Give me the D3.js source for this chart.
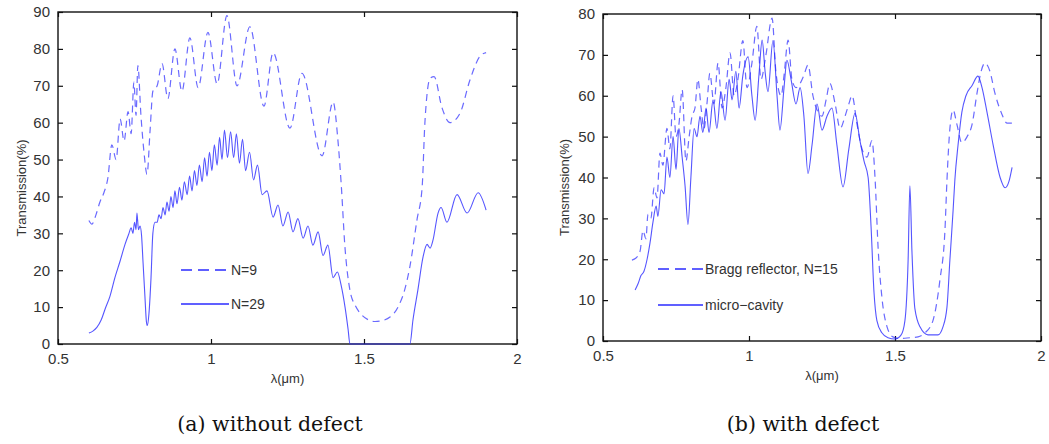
<!DOCTYPE html>
<html>
<head>
<meta charset="utf-8">
<script src="https://cdn.jsdelivr.net/npm/d3@7"></script>
<style>
  body { margin: 0; background: #fff; }
  text { font-family: "Liberation Sans", Arial, sans-serif; }
  text.caption { font-family: "DejaVu Serif", serif; }
</style>
</head>
<body>
<div id="chart-area"></div>
<script>
// tick values
const xTicks = [0.5, 1, 1.5, 2];
const yTicksA = [0, 10, 20, 30, 40, 50, 60, 70, 80, 90];
const yTicksB = [0, 10, 20, 30, 40, 50, 60, 70, 80];

// (a) without defect, N=9  [lambda um, T %]
const seriesN9 = [
  [0.601,33.5],[0.611,32.5],[0.624,35],[0.637,38.5],[0.650,41],[0.663,45],[0.676,54],[0.690,50],
  [0.703,61],[0.716,55],[0.729,63],[0.739,57],[0.748,71],[0.755,62],[0.761,75.5],[0.771,62],
  [0.781,52],[0.791,46],[0.801,58],[0.810,68.5],[0.824,70],[0.840,76],[0.859,66.5],[0.882,80],
  [0.905,68.5],[0.931,83],[0.958,69.5],[0.990,84.5],[1.020,70.5],[1.052,89],[1.085,70],[1.127,86],
  [1.173,64.5],[1.203,79],[1.258,58.5],[1.297,73.4],[1.363,51],[1.399,65.6],[1.415,55],[1.425,44],
  [1.438,26],[1.454,14.6],[1.471,10.5],[1.487,8.4],[1.513,6.6],[1.536,6.1],[1.562,6.4],[1.585,7.3],
  [1.611,10],[1.634,15],[1.650,21],[1.673,33.6],[1.690,42.5],[1.699,60],[1.716,72],[1.729,72.5],
  [1.755,64],[1.781,60],[1.814,62.6],[1.846,71.5],[1.879,78],[1.899,79]
];

// (a) without defect, N=29
const seriesN29 = [
  [0.601,3],[0.614,3.5],[0.627,4.5],[0.641,6.5],[0.654,9.5],[0.670,13],[0.686,18],[0.703,22.5],
  [0.719,27],[0.732,30],[0.739,31.5],[0.745,30],[0.750,33],[0.755,31],[0.758,35.5],[0.763,31],
  [0.768,32],[0.773,29.5],[0.778,22],[0.784,13],[0.789,6],[0.792,5],[0.797,8],[0.804,18],
  [0.810,30],[0.817,33],[0.824,33],[0.830,35],[0.837,34],[0.843,37],[0.850,35],[0.856,38.5],
  [0.863,36],[0.869,40],[0.876,37],[0.882,41.5],[0.889,38],[0.897,42.5],[0.905,39],[0.913,44],
  [0.922,40.5],[0.930,45.5],[0.938,41.5],[0.946,47],[0.954,43],[0.962,48.5],[0.971,44],[0.979,50.5],
  [0.987,45.5],[0.995,52],[1.003,47],[1.011,54],[1.020,48.5],[1.028,56],[1.036,50],[1.044,58],
  [1.054,50.5],[1.064,57.5],[1.074,50.5],[1.083,57],[1.093,49],[1.103,55.5],[1.113,47],[1.126,52],
  [1.139,44.5],[1.152,48.5],[1.167,40.5],[1.183,41.5],[1.203,34.4],[1.219,37.7],[1.235,32],[1.252,35.8],
  [1.268,30.4],[1.284,34],[1.301,28.7],[1.317,32],[1.333,26.8],[1.350,30.4],[1.366,24],[1.382,26.8],
  [1.399,18],[1.413,19.5],[1.425,16],[1.438,10],[1.448,4],[1.454,0],[1.650,0],[1.660,6.5],
  [1.676,14.6],[1.693,23.6],[1.706,27],[1.716,26],[1.725,28],[1.742,35.5],[1.752,37],[1.771,33],
  [1.804,40.5],[1.837,35.5],[1.873,41],[1.899,36.3]
];

// (b) with defect, Bragg reflector N=15
const seriesBragg = [
  [0.599,19.8],[0.613,20.3],[0.627,22],[0.637,27],[0.647,25],[0.654,31],[0.664,30],[0.675,37.5],
  [0.685,35],[0.695,46],[0.705,43],[0.719,52],[0.729,47],[0.740,60],[0.750,50],[0.760,53],
  [0.771,61.5],[0.784,44],[0.795,50],[0.805,55],[0.815,57],[0.825,64],[0.836,57],[0.846,52],
  [0.856,58],[0.866,65.5],[0.880,58],[0.894,68],[0.908,57],[0.921,62],[0.935,70.5],[0.949,60],
  [0.962,64],[0.979,73.5],[0.993,62],[1.010,68],[1.027,77],[1.041,64],[1.058,70],[1.079,79],
  [1.092,66],[1.110,60],[1.120,65],[1.134,73.6],[1.147,64],[1.161,62],[1.175,63],[1.188,65],
  [1.202,67.5],[1.219,60],[1.236,56],[1.250,55],[1.264,59],[1.277,63],[1.295,58],[1.312,52],
  [1.329,55],[1.342,58],[1.353,60],[1.370,53],[1.387,47],[1.404,45],[1.421,49],[1.432,39.4],
  [1.442,23],[1.455,10.8],[1.473,3.4],[1.493,1],[1.517,0.6],[1.551,0.8],[1.579,1],[1.603,2],
  [1.630,5],[1.654,15],[1.671,27],[1.678,39.4],[1.688,52],[1.699,56.5],[1.712,53],[1.729,48.5],
  [1.747,50],[1.764,53],[1.781,60.7],[1.795,66],[1.808,68],[1.825,66],[1.842,60.7],[1.866,55.5],
  [1.884,53.3],[1.901,53.3]
];

// (b) with defect, micro-cavity
const seriesCavity = [
  [0.610,12.5],[0.620,14],[0.630,16],[0.640,17],[0.651,20],[0.661,24],[0.671,29],[0.682,33],
  [0.688,30.5],[0.699,37],[0.709,36],[0.719,45],[0.729,40],[0.740,50],[0.750,42],[0.760,52],
  [0.771,45],[0.781,38],[0.791,28.5],[0.801,40],[0.812,52],[0.822,50],[0.832,55],[0.842,51],
  [0.853,57],[0.863,51],[0.877,59],[0.890,52],[0.904,61],[0.918,54],[0.932,64],[0.942,59],
  [0.955,66],[0.966,57],[0.979,65],[0.997,69.5],[1.010,60],[1.021,54],[1.034,65],[1.045,73.6],
  [1.055,66],[1.065,61],[1.082,73.5],[1.096,60],[1.106,51.6],[1.120,62],[1.130,68.7],[1.144,64],
  [1.161,58],[1.175,62],[1.188,55],[1.202,41],[1.216,48],[1.233,58],[1.250,51.6],[1.267,55],
  [1.284,57],[1.301,48],[1.322,37.7],[1.342,47],[1.363,55.7],[1.380,49],[1.394,44],[1.408,40],
  [1.418,28],[1.428,12],[1.438,5],[1.455,2],[1.476,0.8],[1.500,0.5],[1.521,1.5],[1.534,5],
  [1.545,20],[1.551,38],[1.558,22],[1.568,8],[1.586,3.4],[1.613,1.5],[1.647,1.5],[1.664,3.4],
  [1.678,8.3],[1.688,19.8],[1.699,32],[1.705,39.4],[1.716,48],[1.729,56],[1.743,60],[1.764,62.5],
  [1.784,64.8],[1.798,62],[1.815,56],[1.836,48],[1.860,40],[1.877,37.5],[1.890,39],[1.901,42.5]
];

const WIDTH = 1049, HEIGHT = 444;
const BLUE = "#2b2bff";

const svg = d3.select("#chart-area").append("svg")
  .attr("width", WIDTH)
  .attr("height", HEIGHT);

const panels = [
  { id: "a", left: 58, right: 517, top: 12, bottom: 344, yMax: 90, yTicks: yTicksA,
    dashed: seriesN9, solid: seriesN29, names: ["N=9", "N=29"],
    legX: 181, legY: [270, 304], legLen: 48, ylabX: 21,
    caption: "(a) without defect", capX: 270 },
  { id: "b", left: 603, right: 1041, top: 14, bottom: 341, yMax: 80, yTicks: yTicksB,
    dashed: seriesBragg, solid: seriesCavity, names: ["Bragg reflector, N=15", "micro\u2212cavity"],
    legX: 658, legY: [269, 305], legLen: 45, ylabX: 564,
    caption: "(b) with defect", capX: 803 }
];

panels.forEach(p => {
  const x = d3.scaleLinear().domain([0.5, 2]).range([p.left, p.right]);
  const y = d3.scaleLinear().domain([0, p.yMax]).range([p.bottom, p.top]);

  const g = svg.append("g");

  // box first, curves go on top of it (the zero run sits on the axis)
  g.append("rect")
    .attr("x", p.left).attr("y", p.top)
    .attr("width", p.right - p.left).attr("height", p.bottom - p.top)
    .attr("fill", "none")
    .attr("stroke", "#111")
    .attr("stroke-width", 1.4);

  // axes, ticks inward like matlab
  const fmt = d3.format("");
  g.append("g")
    .attr("transform", `translate(0,${p.bottom})`)
    .call(d3.axisBottom(x).tickValues(xTicks).tickFormat(fmt).tickSizeInner(-5).tickSizeOuter(0).tickPadding(9));
  g.append("g")
    .attr("transform", `translate(0,${p.top})`)
    .call(d3.axisTop(x).tickValues(xTicks).tickFormat("").tickSizeInner(-5).tickSizeOuter(0));
  g.append("g")
    .attr("transform", `translate(${p.left},0)`)
    .call(d3.axisLeft(y).tickValues(p.yTicks).tickFormat(fmt).tickSizeInner(-5).tickSizeOuter(0).tickPadding(8));
  g.append("g")
    .attr("transform", `translate(${p.right},0)`)
    .call(d3.axisRight(y).tickValues(p.yTicks).tickFormat("").tickSizeInner(-5).tickSizeOuter(0));

  g.selectAll(".domain").remove();
  g.selectAll(".tick line").attr("stroke", "#111").attr("stroke-width", 1.2);
  g.selectAll(".tick text")
    .attr("font-size", 15)
    .attr("fill", "#333");

  g.append("clipPath").attr("id", "clip-" + p.id)
    .append("rect")
    .attr("x", p.left).attr("y", p.top - 1)
    .attr("width", p.right - p.left).attr("height", p.bottom - p.top + 3);

  const line = d3.line()
    .x(d => x(d[0]))
    .y(d => y(d[1]))
    .curve(d3.curveMonotoneX);

  const curves = g.append("g").attr("clip-path", `url(#clip-${p.id})`);
  curves.append("path")
    .attr("d", line(p.dashed))
    .attr("fill", "none")
    .attr("stroke", BLUE)
    .attr("stroke-opacity", 0.7)
    .attr("stroke-width", 1.2)
    .attr("stroke-dasharray", "7,5");
  curves.append("path")
    .attr("d", line(p.solid))
    .attr("fill", "none")
    .attr("stroke", BLUE)
    .attr("stroke-opacity", 0.8)
    .attr("stroke-width", 1.1);

  // axis labels
  g.append("text")
    .attr("x", (p.left + p.right) / 2)
    .attr("y", p.bottom + 39)
    .attr("text-anchor", "middle")
    .attr("font-size", 13)
    .attr("fill", "#333")
    .text("\u03bb(\u03bcm)");
  g.append("text")
    .attr("transform", `translate(${p.ylabX},${(p.top + p.bottom) / 2 + 10}) rotate(-90)`)
    .attr("text-anchor", "middle")
    .attr("dy", "0.35em")
    .attr("font-size", 13)
    .attr("fill", "#333")
    .text("Transmission(%)");

  // legend
  p.names.forEach((name, i) => {
    g.append("line")
      .attr("x1", p.legX).attr("x2", p.legX + p.legLen)
      .attr("y1", p.legY[i]).attr("y2", p.legY[i])
      .attr("stroke", BLUE)
      .attr("stroke-width", 1.4)
      .attr("stroke-dasharray", i === 0 ? "11,6" : null);
    g.append("text")
      .attr("x", p.legX + p.legLen + 2)
      .attr("y", p.legY[i])
      .attr("dy", "0.35em")
      .attr("font-size", 14)
      .attr("fill", "#333")
      .text(name);
  });

  // caption
  g.append("text")
    .attr("class", "caption")
    .attr("x", p.capX)
    .attr("y", 431)
    .attr("text-anchor", "middle")
    .attr("font-size", 20.5)
    .attr("fill", "#111")
    .text(p.caption);
});
</script>
</body>
</html>
